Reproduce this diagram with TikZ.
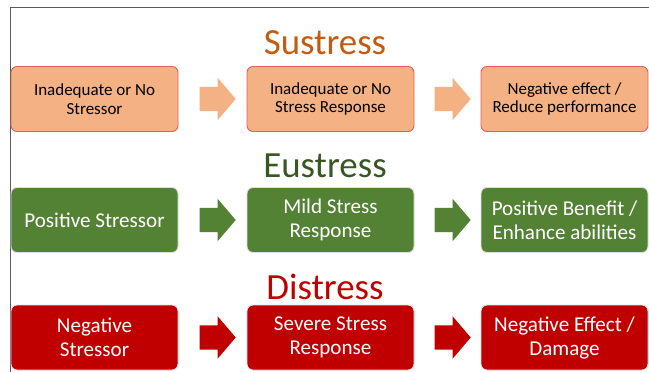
\documentclass[tikz,border=0pt]{standalone}
\usepackage{fontspec}
\setmainfont{Carlito}
\usepackage{tikz}
\usetikzlibrary{shapes,arrows.meta,positioning,calc}
\usepackage{xcolor}

\definecolor{sustitle}{HTML}{C55A11}
\definecolor{susfill}{HTML}{F4B183}
\definecolor{susline}{RGB}{224,96,90}
\definecolor{eutitle}{HTML}{385723}
\definecolor{eufill}{HTML}{548235}
\definecolor{distitle}{HTML}{C00000}
\definecolor{disfill}{HTML}{C00000}
\definecolor{frameline}{HTML}{595959}

\begin{document}
\begin{tikzpicture}[
    box/.style={rectangle, rounded corners=0.18cm, line width=0.8pt, minimum width=5.01cm, minimum height=1.95cm, align=center, inner sep=0pt},
    sbox/.style={box, fill=susfill, draw=susline, text=black, font=\fontsize{14.5}{15.8}\selectfont},
    ebox/.style={box, fill=eufill, draw=gray!25, text=white, font=\fontsize{18}{20.5}\selectfont},
    dbox/.style={box, fill=disfill, draw=gray!25, text=white, font=\fontsize{18}{20.5}\selectfont},
    title/.style={anchor=base, text=#1, font=\fontsize{31.5}{36}\selectfont},
    blockarrow/.style={single arrow, fill=#1, draw=none, inner xsep=0pt, inner ysep=0.36cm, minimum height=1.08cm, single arrow head extend=0.27cm, single arrow tip angle=99}
]
    \useasboundingbox (0,0) rectangle (19.47,11.16);

    % frame of the screenshot
    \draw[frameline, line width=1.2pt] (0.315,0) -- (0.315,10.935) -- (19.47,10.935);

    % Sustress
    \node[title=sustitle] (sus) at (9.75, 9.51) {Sustress};
    \node[sbox] (sus1) at (2.835, 8.19) {Inadequate or No\\Stressor};
    \node[sbox] (sus2) at (9.915, 8.19) {Inadequate or No\\Stress Response};
    \node[sbox] (sus3) at (16.935, 8.19) {Negative effect /\\Reduce performance};
    \node[blockarrow=susfill] (sa1) at ($(sus1.east)!0.5!(sus2.west)$) {};
    \node[blockarrow=susfill] (sa2) at ($(sus2.east)!0.5!(sus3.west)$) {};

    % Eustress
    \node[title=eutitle] (eu) at (9.75, 5.82) {Eustress};
    \node[ebox] (eu1) at (2.835, 4.56) {Positive Stressor};
    \node[ebox] (eu2) at (9.915, 4.56) {Mild Stress\\Response};
    \node[ebox] (eu3) at (16.935, 4.56) {Positive Benefit /\\Enhance abilities};
    \node[blockarrow=eufill] (ea1) at ($(eu1.east)!0.5!(eu2.west)$) {};
    \node[blockarrow=eufill] (ea2) at ($(eu2.east)!0.5!(eu3.west)$) {};

    % Distress
    \node[title=distitle] (dis) at (9.75, 2.19) {Distress};
    \node[dbox] (dis1) at (2.835, 1.035) {Negative\\Stressor};
    \node[dbox] (dis2) at (9.915, 1.035) {Severe Stress\\Response};
    \node[dbox] (dis3) at (16.935, 1.035) {Negative Effect /\\Damage};
    \node[blockarrow=disfill] (da1) at ($(dis1.east)!0.5!(dis2.west)$) {};
    \node[blockarrow=disfill] (da2) at ($(dis2.east)!0.5!(dis3.west)$) {};
\end{tikzpicture}
\end{document}
